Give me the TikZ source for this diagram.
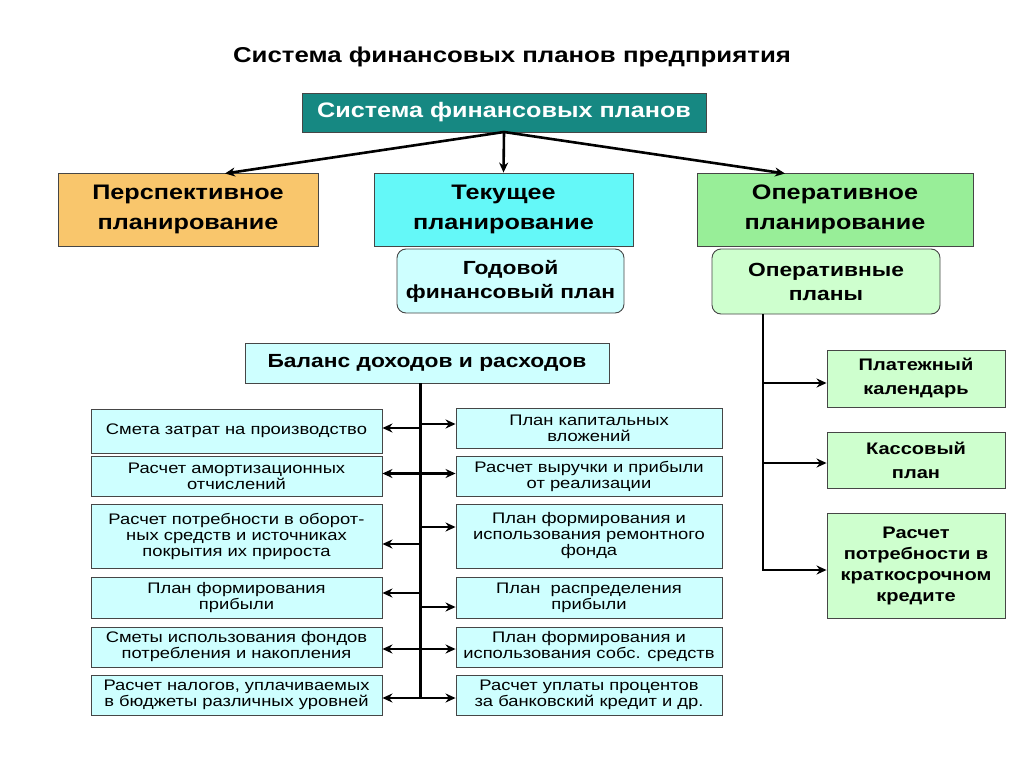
\documentclass[tikz,border=0pt]{standalone}
\usepackage{fontspec}
\setmainfont[FakeStretch=1.2]{Liberation Sans}
\usetikzlibrary{arrows.meta}
\definecolor{teal1}{RGB}{22,136,130}
\definecolor{orange1}{RGB}{249,198,108}
\definecolor{cyan1}{RGB}{100,248,248}
\definecolor{green1}{RGB}{152,238,152}
\definecolor{lcyan}{RGB}{206,255,255}
\definecolor{lgreen}{RGB}{206,255,206}
\definecolor{bord}{RGB}{70,70,70}
\tikzset{
  box/.style={draw=bord, line width=0.9pt, align=center, inner sep=2pt},
  bigbox/.style={box, font=\fontsize{21}{30}\selectfont\bfseries},
  midbox/.style={box, font=\fontsize{19}{24}\selectfont\bfseries},
  gbox/.style={box, fill=lgreen, font=\fontsize{16.7}{24}\selectfont\bfseries},
  smallbox/.style={box, fill=lcyan, font=\fontsize{15.3}{16}\selectfont},
  conn/.style={line width=2.6pt, -{Stealth[length=10pt,width=9pt]}},
  vline/.style={line width=2.6pt}
}
\begin{document}
\begin{tikzpicture}[x=1pt,y=-1pt]
\useasboundingbox (0,0) rectangle (1024,767);
\fill[white] (0,0) rectangle (1024,767);

\node[font=\fontsize{21.5}{24}\selectfont\bfseries] (title) at (512,57) {Система финансовых планов предприятия};

\node[box, fill=teal1, text=white, minimum width=404pt, minimum height=39pt, font=\fontsize{21}{24}\selectfont\bfseries] (top) at (504,112.5) {Система финансовых планов};

\node[bigbox, fill=orange1, minimum width=260pt, minimum height=73pt] (persp) at (188,209.5) {Перспективное\\планирование};
\node[bigbox, fill=cyan1, minimum width=259pt, minimum height=73pt] (tek) at (503.5,209.5) {Текущее\\планирование};
\node[bigbox, fill=green1, minimum width=276pt, minimum height=73pt] (oper) at (835,209.5) {Оперативное\\планирование};

\node[midbox, fill=lcyan, rounded corners=9pt, minimum width=227pt, minimum height=64pt] (god) at (510.5,281) {Годовой\\финансовый план};
\node[midbox, fill=lgreen, rounded corners=9pt, minimum width=228pt, minimum height=65pt] (opl) at (826,281.5) {Оперативные\\планы};

\node[gbox, minimum width=178pt, minimum height=57pt] (plat) at (916,378.5) {Платежный\\календарь};
\node[gbox, minimum width=178pt, minimum height=56pt] (kass) at (916,460) {Кассовый\\план};
\node[gbox, minimum width=178pt, minimum height=105pt, font=\fontsize{16.7}{20.7}\selectfont\bfseries] (kred) at (916,566) {Расчет\\потребности в\\краткосрочном\\кредите};

\node[midbox, fill=lcyan, minimum width=364pt, minimum height=40pt] (bal) at (427,363) {Баланс доходов и расходов};

% left column
\node[smallbox, minimum width=291pt, minimum height=44pt] (l1) at (236.5,431) {Смета затрат на производство};
\node[smallbox, minimum width=291pt, minimum height=40pt] (l2) at (236.5,476.5) {Расчет амортизационных\\отчислений};
\node[smallbox, minimum width=291pt, minimum height=64pt] (l3) at (236.5,536) {Расчет потребности в оборот-\\ных средств и источниках\\покрытия их прироста};
\node[smallbox, minimum width=291pt, minimum height=41pt] (l4) at (236.5,597.5) {План формирования\\прибыли};
\node[smallbox, minimum width=291pt, minimum height=40pt] (l5) at (236.5,647) {Сметы использования фондов\\потребления и накопления};
\node[smallbox, minimum width=291pt, minimum height=40pt] (l6) at (236.5,695) {Расчет налогов, уплачиваемых\\в бюджеты различных уровней};

% right column
\node[smallbox, minimum width=266pt, minimum height=40pt] (r1) at (589,428) {План капитальных\\вложений};
\node[smallbox, minimum width=266pt, minimum height=40pt] (r2) at (589,476.5) {Расчет выручки и прибыли\\от реализации};
\node[smallbox, minimum width=266pt, minimum height=64pt] (r3) at (589,536) {План формирования и\\использования ремонтного\\фонда};
\node[smallbox, minimum width=266pt, minimum height=41pt] (r4) at (589,597.5) {План~~распределения\\прибыли};
\node[smallbox, minimum width=266pt, minimum height=40pt] (r5) at (589,647) {План формирования и\\использования собс. средств};
\node[smallbox, minimum width=266pt, minimum height=40pt] (r6) at (589,695) {Расчет уплаты процентов\\за банковский кредит и др.};

% top arrows
\coordinate (tp) at (504,132);
\draw[conn] (tp) -- (225,173.5);
\draw[conn] (tp) -- (tek.north);
\draw[conn] (tp) -- (785,173.5);

% operative plans trunk
\coordinate (ot) at (763,314);
\coordinate (ob) at (763,570);
\draw[vline] (ot) -- (ob);
\draw[conn] (763,383) -- (plat.west |- 0,383);
\draw[conn] (763,463) -- (kass.west |- 0,463);
\draw[conn] (762,570) -- (kred.west |- 0,570);

% balance trunk
\coordinate (bt) at (420.5,383);
\coordinate (bb) at (420.5,698.5);
\draw[vline] (bt) -- (bb);
\draw[conn] (421,428) -- (l1.east |- 0,428);
\draw[conn] (420,424) -- (r1.west |- 0,424);
\draw[conn] (421,473.5) -- (l2.east |- 0,473.5);
\draw[conn] (420,473.5) -- (r2.west |- 0,473.5);
\draw[conn] (421,544) -- (l3.east |- 0,544);
\draw[conn] (420,527) -- (r3.west |- 0,527);
\draw[conn] (421,593) -- (l4.east |- 0,593);
\draw[conn] (420,607) -- (r4.west |- 0,607);
\draw[conn] (421,649) -- (l5.east |- 0,649);
\draw[conn] (420,649) -- (r5.west |- 0,649);
\draw[conn] (421,698) -- (l6.east |- 0,698);
\draw[conn] (420,698) -- (r6.west |- 0,698);
\end{tikzpicture}
\end{document}
